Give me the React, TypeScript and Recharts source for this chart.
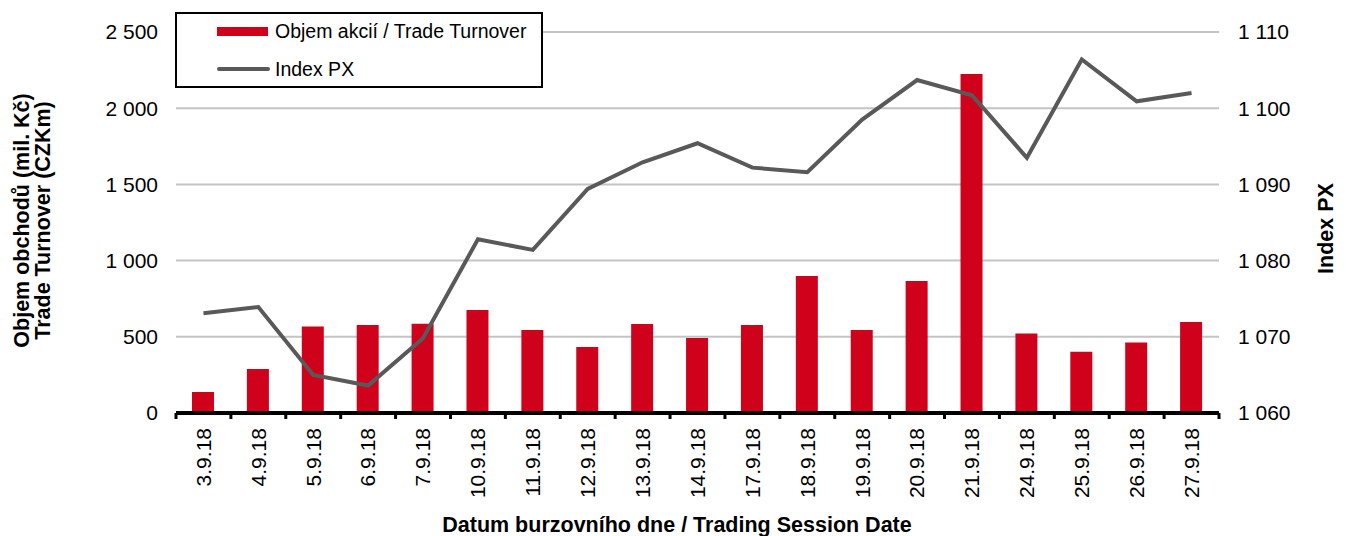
import * as React from "react";
import {
  ComposedChart,
  Bar,
  Line,
  XAxis,
  YAxis,
  CartesianGrid,
  Legend,
  Label,
} from "recharts";

const dates = [
  "3.9.18", "4.9.18", "5.9.18", "6.9.18", "7.9.18", "10.9.18", "11.9.18",
  "12.9.18", "13.9.18", "14.9.18", "17.9.18", "18.9.18", "19.9.18",
  "20.9.18", "21.9.18", "24.9.18", "25.9.18", "26.9.18", "27.9.18",
];

// Objem akcií (mil. Kč)
const turnover = [
  138, 289, 568, 578, 585, 676, 545, 433, 584, 492, 577, 899, 545, 866,
  2224, 521, 402, 462, 597,
];

// Index PX
const indexPx = [
  1073.1, 1073.9, 1065.0, 1063.6, 1069.8, 1082.8, 1081.4, 1089.4, 1092.9,
  1095.4, 1092.2, 1091.6, 1098.5, 1103.7, 1101.7, 1093.5, 1106.4, 1100.9,
  1102.0,
];

const leftTicks = [0, 500, 1000, 1500, 2000, 2500];
const rightTicks = [1060, 1070, 1080, 1090, 1100, 1110];

const data = dates.map((d, i) => ({
  date: d,
  turnover: turnover[i],
  px: indexPx[i],
}));

const FONT = '"Liberation Sans", Arial, sans-serif';
const RED = "#D0011B";
const GREY = "#595959";

const W = 1346;
const H = 536;
const MARGIN = { top: 32, right: 47, bottom: 33, left: 100 };
const LEFT_W = 76;
const RIGHT_W = 80;
const X_H = 90;
const PLOT_W = W - MARGIN.left - MARGIN.right - LEFT_W - RIGHT_W;
const STEP = PLOT_W / dates.length;
const TICK_GAP = 14;
const TICK_FS = 21;
const TITLE_FS = 21.5;

const fmt = (v: number) => String(v).replace(/\B(?=(\d{3})+(?!\d))/g, " ");

function DateTick(props: any) {
  const { x, y, payload, index } = props;
  const axisY = y - TICK_GAP;
  return (
    <g>
      <line x1={x - STEP / 2} x2={x - STEP / 2} y1={axisY} y2={axisY + 6} stroke="#000" strokeWidth={3} />
      {index === dates.length - 1 && (
        <line x1={x + STEP / 2} x2={x + STEP / 2} y1={axisY} y2={axisY + 6} stroke="#000" strokeWidth={3} />
      )}
      <text
        x={x}
        y={y + 1}
        dy="0.35em"
        transform={`rotate(-90, ${x}, ${y + 1})`}
        textAnchor="end"
        fontFamily={FONT}
        fontSize={TICK_FS}
        fill="#000"
      >
        {payload.value}
      </text>
    </g>
  );
}

function LeftTitle(props: any) {
  const { viewBox } = props;
  const cy = viewBox.y + viewBox.height / 2 - 2;
  const x1 = 21;
  const x2 = 42;
  return (
    <g fontFamily={FONT} fontSize={TITLE_FS} fontWeight="bold" fill="#000">
      <text x={x1} y={cy} dy="0.35em" textAnchor="middle" transform={`rotate(-90, ${x1}, ${cy})`}>
        Objem obchodů (mil. Kč)
      </text>
      <text x={x2} y={cy} dy="0.35em" textAnchor="middle" transform={`rotate(-90, ${x2}, ${cy})`}>
        Trade Turnover (CZKm)
      </text>
    </g>
  );
}

function RightTitle(props: any) {
  const { viewBox } = props;
  const cy = viewBox.y + viewBox.height / 2 + 6;
  const x = 1325;
  return (
    <text
      x={x}
      y={cy}
      dy="0.35em"
      textAnchor="middle"
      transform={`rotate(-90, ${x}, ${cy})`}
      fontFamily={FONT}
      fontSize={TITLE_FS}
      fontWeight="bold"
      fill="#000"
    >
      Index PX
    </text>
  );
}

function XTitle() {
  return (
    <text x={677} y={524} dy="0.35em" textAnchor="middle" fontFamily={FONT} fontSize={TITLE_FS} fontWeight="bold" fill="#000">
      Datum burzovního dne / Trading Session Date
    </text>
  );
}

function LegendBox() {
  return (
    <div
      style={{
        width: 368,
        height: 76,
        boxSizing: "border-box",
        border: "2px solid #000",
        background: "#fff",
        position: "relative",
        fontFamily: FONT,
        fontSize: 19.5,
        color: "#000",
      }}
    >
      <div style={{ position: "absolute", left: 40, top: 13, width: 51, height: 9, background: RED }} />
      <div style={{ position: "absolute", left: 98, top: 6, lineHeight: "22px" }}>Objem akcií / Trade Turnover</div>
      <div style={{ position: "absolute", left: 40, top: 53, width: 53, height: 4, background: GREY, borderRadius: 2 }} />
      <div style={{ position: "absolute", left: 98, top: 44, lineHeight: "22px" }}>Index PX</div>
    </div>
  );
}

export default function App() {
  return (
    <div style={{ position: "absolute", left: 0, top: 0, width: W, height: H, background: "#fff" }}>
      <ComposedChart width={W} height={H} data={data} margin={MARGIN}>
        <CartesianGrid vertical={false} stroke="#c4c4c4" strokeWidth={2} yAxisId="left" />
        <XAxis
          dataKey="date"
          height={X_H}
          interval={0}
          tickLine={false}
          tickSize={6}
          tickMargin={8}
          axisLine={{ stroke: "#000", strokeWidth: 4 }}
          tick={<DateTick />}
        >
          <Label content={<XTitle />} />
        </XAxis>
        <YAxis
          yAxisId="left"
          width={LEFT_W}
          domain={[0, 2500]}
          ticks={leftTicks}
          tickFormatter={fmt}
          axisLine={false}
          tickLine={false}
          tickMargin={12}
          tick={{ fill: "#000", fontFamily: FONT, fontSize: TICK_FS }}
        >
          <Label content={<LeftTitle />} />
        </YAxis>
        <YAxis
          yAxisId="right"
          orientation="right"
          width={RIGHT_W}
          domain={[1060, 1110]}
          ticks={rightTicks}
          tickFormatter={fmt}
          axisLine={false}
          tickLine={false}
          tickMargin={13}
          tick={{ fill: "#000", fontFamily: FONT, fontSize: TICK_FS }}
        >
          <Label content={<RightTitle />} />
        </YAxis>
        <Legend
          layout="vertical"
          align="center"
          verticalAlign="middle"
          content={<LegendBox />}
          wrapperStyle={{ left: 175, top: 12, width: 368, height: 76 }}
        />
        <Bar
          yAxisId="left"
          dataKey="turnover"
          name="Objem akcií / Trade Turnover"
          fill={RED}
          barSize={22}
          isAnimationActive={false}
        />
        <Line
          yAxisId="right"
          dataKey="px"
          name="Index PX"
          stroke={GREY}
          strokeWidth={4}
          dot={false}
          type="linear"
          isAnimationActive={false}
        />
      </ComposedChart>
    </div>
  );
}
